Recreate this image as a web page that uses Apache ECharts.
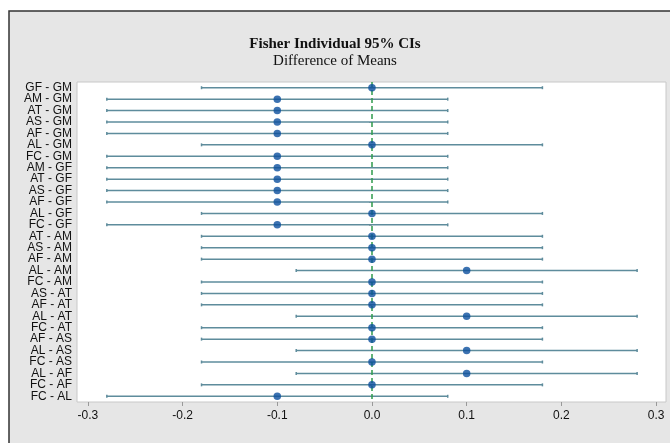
<!DOCTYPE html>
<html>
<head>
<meta charset="utf-8">
<script src="https://cdn.jsdelivr.net/npm/echarts@6/dist/echarts.min.js"></script>
<style>
  html, body { margin: 0; padding: 0; background: #fff; }
  #chart { width: 670px; height: 443px; }
</style>
</head>
<body>
<div id="chart"></div>
<script>
// pairwise differences, top to bottom
const categories = ['GF - GM', 'AM - GM', 'AT - GM', 'AS - GM', 'AF - GM', 'AL - GM', 'FC - GM',
  'AM - GF', 'AT - GF', 'AS - GF', 'AF - GF', 'AL - GF', 'FC - GF',
  'AT - AM', 'AS - AM', 'AF - AM', 'AL - AM', 'FC - AM',
  'AS - AT', 'AF - AT', 'AL - AT', 'FC - AT',
  'AF - AS', 'AL - AS', 'FC - AS', 'AL - AF', 'FC - AF', 'FC - AL']
const means = [0, -0.1, -0.1, -0.1, -0.1, 0, -0.1,
  -0.1, -0.1, -0.1, -0.1, 0, -0.1,
  0, 0, 0, 0.1, 0,
  0, 0, 0.1, 0,
  0, 0.1, 0, 0.1, 0, -0.1]
const lower = [-0.18, -0.28, -0.28, -0.28, -0.28, -0.18, -0.28,
  -0.28, -0.28, -0.28, -0.28, -0.18, -0.28,
  -0.18, -0.18, -0.18, -0.08, -0.18,
  -0.18, -0.18, -0.08, -0.18,
  -0.18, -0.08, -0.18, -0.08, -0.18, -0.28]
const upper = [0.18, 0.08, 0.08, 0.08, 0.08, 0.18, 0.08,
  0.08, 0.08, 0.08, 0.08, 0.18, 0.08,
  0.18, 0.18, 0.18, 0.28, 0.18,
  0.18, 0.18, 0.28, 0.18,
  0.18, 0.28, 0.18, 0.28, 0.18, 0.08]
const xTicks = [-0.3, -0.2, -0.1, 0, 0.1, 0.2, 0.3]

const chart = echarts.init(document.getElementById('chart'))

const option = {
  backgroundColor: '#ffffff',
  animation: false,
  graphic: [{
    type: 'rect',
    z: -10,
    shape: { x: 9, y: 11, width: 700, height: 460 },
    style: { fill: '#e6e6e6', stroke: '#333333', lineWidth: 1.5 }
  }],
  title: {
    text: 'Fisher Individual 95% CIs',
    subtext: 'Difference of Means',
    left: 'center',
    top: 32,
    itemGap: 2,
    textStyle: { fontFamily: 'Liberation Serif', fontSize: 15, fontWeight: 'bold', color: '#111' },
    subtextStyle: { fontFamily: 'Liberation Serif', fontSize: 15, color: '#111' }
  },
  grid: {
    left: 77, top: 82, right: 4, bottom: 41,
    show: true, backgroundColor: '#ffffff', borderColor: '#c8c8c8', borderWidth: 1
  },
  xAxis: {
    type: 'value',
    min: -0.3115,
    max: 0.3105,
    splitLine: { show: false },
    axisLine: { show: false },
    axisTick: { show: true, customValues: xTicks, length: 4, lineStyle: { color: '#999' } },
    axisLabel: {
      customValues: xTicks,
      formatter: v => v.toFixed(1),
      margin: 8,
      fontFamily: 'Liberation Sans', fontSize: 12, color: '#111'
    }
  },
  yAxis: {
    type: 'category',
    inverse: true,
    data: categories,
    axisLine: { show: false },
    axisTick: { show: true, length: 3, alignWithLabel: true, lineStyle: { color: '#aaa' } },
    axisLabel: { fontFamily: 'Liberation Sans', fontSize: 12, color: '#111', margin: 5, interval: 0 }
  },
  series: [{
    type: 'custom',
    data: categories.map((c, i) => [lower[i], upper[i], i]),
    encode: { x: [0, 1], y: 2 },
    renderItem: (params, api) => {
      const a = api.coord([api.value(0), api.value(2)])
      const b = api.coord([api.value(1), api.value(2)])
      const st = { stroke: '#5e8c9c', lineWidth: 1.5 }
      return {
        type: 'group',
        children: [
          { type: 'line', shape: { x1: a[0], y1: a[1], x2: b[0], y2: b[1] }, style: st },
          { type: 'line', shape: { x1: a[0], y1: a[1] - 1.5, x2: a[0], y2: a[1] + 1.5 }, style: st },
          { type: 'line', shape: { x1: b[0], y1: b[1] - 1.5, x2: b[0], y2: b[1] + 1.5 }, style: st }
        ]
      }
    }
  }, {
    type: 'scatter',
    data: categories.map((c, i) => [means[i], i]),
    symbolSize: 7.5,
    itemStyle: { color: '#0b4f9e' },
    z: 5,
    markLine: {
      silent: true,
      symbol: 'none',
      label: { show: false },
      lineStyle: { color: '#2f9a4c', type: [5, 3], width: 1.5 },
      data: [{ xAxis: 0 }]
    }
  }]
}

chart.setOption(option)
</script>
</body>
</html>
